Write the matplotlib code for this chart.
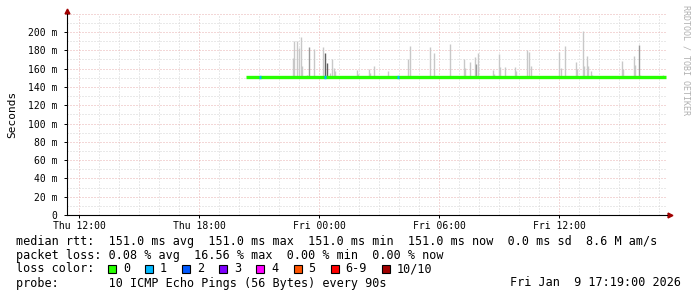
import matplotlib
matplotlib.use("Agg")
import matplotlib.pyplot as plt
from matplotlib.patches import Rectangle

# ----- data ----- #
# time axis is hours since Thu 00:00
x_start, x_end = 11.4, 41.4
tick_hours = [12, 18, 24, 30, 36]
tick_labels = ["Thu 12:00", "Thu 18:00", "Fri 00:00", "Fri 06:00", "Fri 12:00"]
y_ticks = [0, 20, 40, 60, 80, 100, 120, 140, 160, 180, 200]
y_tick_labels = ["0", "20 m", "40 m", "60 m", "80 m", "100 m", "120 m", "140 m", "160 m", "180 m", "200 m"]

# median rtt (ms)
median_t = [20.35, 41.35]
median_ms = [151.0, 151.0]

# samples with lost pings (time, lost count)
loss_t = [21.05, 24.3, 27.95]
loss_n = [1, 1, 1]

# smoke spikes: time, top value (ms), shade (0 light, 1 mid, 2 dark)
smoke_t = [22.69, 22.75, 22.89, 23.0, 23.09, 23.13, 23.39, 23.5, 23.75, 24.2,
           24.3, 24.4, 24.55, 24.65, 24.75, 24.8, 25.9, 25.95, 26.5, 26.55,
           26.75, 27.45, 28.45, 28.55, 29.55, 29.75, 30.55, 31.25, 31.3, 31.55,
           31.8, 31.85, 31.95, 32.7, 32.75, 33.0, 33.05, 33.3, 33.8, 33.85,
           34.4, 34.5, 34.6, 36.0, 36.1, 36.3, 36.85, 36.9, 37.2, 37.25,
           37.4, 37.45, 37.6, 37.65, 39.15, 39.2, 39.75, 39.8, 40.0, 40.05,
           41.2]
smoke_top = [172, 190, 190, 182, 194, 163, 153, 184, 181, 184,
             177, 166, 155, 170, 161, 157, 158, 154, 160, 155,
             163, 157, 171, 185, 184, 177, 187, 170, 161, 167,
             173, 165, 177, 158, 154, 176, 162, 162, 162, 157,
             180, 178, 163, 178, 161, 185, 167, 160, 201, 163,
             174, 163, 157, 153, 168, 160, 174, 164, 186, 153,
             153]
smoke_shade = [0, 0, 0, 0, 0, 0, 0, 1, 0, 0,
               2, 2, 0, 0, 0, 0, 0, 0, 0, 0,
               0, 0, 0, 0, 0, 0, 0, 0, 0, 0,
               0, 1, 0, 0, 0, 0, 0, 0, 0, 0,
               0, 0, 0, 0, 0, 0, 0, 0, 0, 0,
               0, 0, 0, 0, 0, 0, 0, 0, 1, 0,
               0]

# legend
loss_labels = ["0", "1", "2", "3", "4", "5", "6-9", "10/10"]
loss_colors = ["#26ff00", "#00b8ff", "#0059ff", "#7e00ff", "#ff00ff", "#ff5500", "#ff0000", "#a10000"]
rtt_line = "median rtt:  151.0 ms avg  151.0 ms max  151.0 ms min  151.0 ms now  0.0 ms sd  8.6 M am/s"
loss_line = "packet loss: 0.08 % avg  16.56 % max  0.00 % min  0.00 % now"
probe_line = "probe:       10 ICMP Echo Pings (56 Bytes) every 90s"
date_line = "Fri Jan  9 17:19:00 2026"

plt.rcParams['font.family'] = ['DejaVu Sans Mono']

W, H = 697, 297
fig = plt.figure(figsize=(W / 100, H / 100), dpi=100)
fig.patch.set_facecolor("white")

# plot area in pixels: x 67..667, y 13.7..215
ax = fig.add_axes([67 / W, (H - 215) / H, 600 / W, (215 - 13.7) / H])
ax.set_xlim(x_start, x_end)
ax.set_ylim(0, 220)

# ----- grid (dotted, rrdtool style) ----- #
dots = (0, (1, 2))
for h in range(12, 42):
    col = "#e8b0b0" if h % 6 == 0 else "#d4d4d4"
    ax.axvline(h, color=col, lw=0.72, linestyle=dots, zorder=1)
for v in range(10, 221, 10):
    col = "#e8b0b0" if v % 20 == 0 else "#d4d4d4"
    ax.axhline(v, color=col, lw=0.72, linestyle=dots, zorder=1)

# ----- smoke ----- #
shade_col = ["#c8c8c8", "#9a9a9a", "#606060"]
for t, top, s in zip(smoke_t, smoke_top, smoke_shade):
    ax.vlines(t, median_ms[0], top, colors=shade_col[s], lw=1.0, zorder=2)

# ----- median line + loss colours ----- #
ax.plot(median_t, median_ms, color=loss_colors[0], lw=2.4, solid_capstyle="butt", zorder=3)
for t, n in zip(loss_t, loss_n):
    ax.plot([t - 0.05, t + 0.05], [median_ms[0], median_ms[0]], color=loss_colors[n],
            lw=2.4, solid_capstyle="butt", zorder=4)

# ----- axes styling ----- #
for side in ["top", "right"]:
    ax.spines[side].set_visible(False)
for side in ["left", "bottom"]:
    ax.spines[side].set_color("black")
    ax.spines[side].set_linewidth(0.8)
ax.set_xticks(tick_hours)
ax.set_xticklabels(tick_labels)
ax.set_yticks(y_ticks)
ax.set_yticklabels(y_tick_labels)
ax.tick_params(axis="both", labelsize=7, length=2, width=0.7, direction="out", colors="black")
ax.tick_params(axis="y", pad=5)
ax.tick_params(axis="x", pad=2)
ax.set_ylabel("Seconds", fontsize=8)
ax.yaxis.set_label_coords(-50 / 600, 0.5)

# arrows at the axis ends
ax.plot([1.005], [0], marker=">", color="#a00000", markersize=3.5, transform=ax.transAxes, clip_on=False)
ax.plot([0], [1.012], marker="^", color="#a00000", markersize=3.5, transform=ax.transAxes, clip_on=False)

# rrdtool credit on right edge
fig.text(686 / W, 1 - 60 / H, "RRDTOOL / TOBI OETIKER", rotation=-90, fontsize=6,
         color="#b0b0b0", ha="center", va="center")

# ----- legend text ----- #
fs = 8.5
fig.text(16 / W, 1 - 241 / H, rtt_line, fontsize=fs, va="center")
fig.text(16 / W, 1 - 255 / H, loss_line, fontsize=fs, va="center")
fig.text(16 / W, 1 - 269 / H, "loss color:", fontsize=fs, va="center")
fig.text(16 / W, 1 - 283 / H, probe_line, fontsize=fs, va="center")
fig.text(681 / W, 1 - 283 / H, date_line, fontsize=fs, va="center", ha="right")

bx = 108
for lab, col in zip(loss_labels, loss_colors):
    fig.patches.append(Rectangle((bx / W, 1 - 273 / H), 8 / W, 8 / H, transform=fig.transFigure,
                                 facecolor=col, edgecolor="black", lw=0.8))
    fig.text((bx + 15) / W, 1 - 269 / H, lab, fontsize=fs, va="center")
    bx += 15 + len(lab) * 7.1 + 15

fig.savefig("out.png", dpi=100, facecolor="white")
